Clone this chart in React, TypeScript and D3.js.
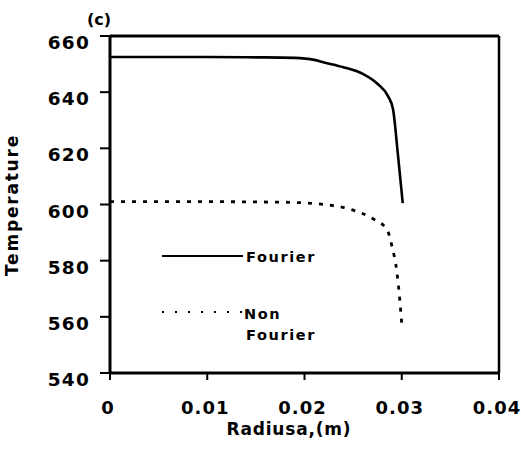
import React from "react";
import * as d3 from "d3";

const xTicks = [0, 0.01, 0.02, 0.03, 0.04];
const xTickLabels = ["0", "0.01", "0.02", "0.03", "0.04"];
const yTicks = [540, 560, 580, 600, 620, 640, 660];

const fourierR = [0, 0.005, 0.01, 0.015, 0.019, 0.021, 0.022, 0.024, 0.026, 0.0275, 0.0286, 0.0291, 0.0296, 0.0301];
const fourierT = [652.5, 652.5, 652.5, 652.4, 652.2, 651.5, 650.6, 648.9, 646.5, 643, 638.5, 634, 618, 600.5];

const nonFourierR = [0, 0.01, 0.018, 0.022, 0.025, 0.027, 0.0285, 0.029, 0.0295, 0.0298, 0.03];
const nonFourierT = [601, 601, 600.8, 600, 598, 595, 591, 585, 576, 566, 557.5];

const legendLabels = ["Fourier", "Non", "Fourier"];

const FONT = "'DejaVu Sans', sans-serif";

export default function App() {
  const W = 521, H = 460;
  const x = d3.scaleLinear().domain([0, 0.04]).range([110, 499]);
  const y = d3.scaleLinear().domain([540, 660]).range([373, 36]);

  const line = d3
    .line<[number, number]>()
    .x((d) => x(d[0]))
    .y((d) => y(d[1]))
    .curve(d3.curveMonotoneX);

  const fData: [number, number][] = fourierR.map((r, i) => [r, fourierT[i]]);
  const nData: [number, number][] = nonFourierR.map((r, i) => [r, nonFourierT[i]]);

  const x0 = x(0), x1 = x(0.04), y0 = y(540), y1 = y(660);

  return (
    <svg width={W} height={H} style={{ position: "absolute", left: 0, top: 0, background: "#fff" }}>
      <rect x={0} y={0} width={W} height={H} fill="#fff" />
      {/* frame */}
      <line x1={x0} y1={y1} x2={x1} y2={y1} stroke="#000" strokeWidth={3} />
      <line x1={x1} y1={y1} x2={x1} y2={y0} stroke="#000" strokeWidth={2.5} />
      <line x1={x0} y1={y0} x2={x1} y2={y0} stroke="#000" strokeWidth={3} />
      <line x1={x0} y1={y1} x2={x0} y2={y0} stroke="#000" strokeWidth={3} />

      {/* y ticks */}
      {yTicks.map((t) => (
        <g key={"y" + t}>
          <line x1={x0 - 10} x2={x0} y1={y(t)} y2={y(t)} stroke="#000" strokeWidth={2} />
          <text
            x={90}
            y={y(t) + 13}
            textAnchor="end"
            fontFamily={FONT}
            fontWeight="bold"
            fontSize={18.5}
            letterSpacing={1.2}
          >
            {t}
          </text>
        </g>
      ))}

      {/* x ticks */}
      {xTicks.map((t, i) => (
        <g key={"x" + t}>
          <line x1={x(t)} x2={x(t)} y1={y0} y2={y0 + 7} stroke="#000" strokeWidth={2} />
          <text
            x={x(t) - 2}
            y={414}
            textAnchor="middle"
            fontFamily={FONT}
            fontWeight="bold"
            fontSize={18}
            letterSpacing={1}
          >
            {xTickLabels[i]}
          </text>
        </g>
      ))}

      {/* curves */}
      <path d={line(fData) || ""} fill="none" stroke="#000" strokeWidth={2.6} />
      <path d={line(nData) || ""} fill="none" stroke="#000" strokeWidth={2.8} strokeDasharray="4,7" />

      {/* legend */}
      <line x1={162} x2={243} y1={256} y2={256} stroke="#000" strokeWidth={2.2} />
      <text x={246} y={262} fontFamily={FONT} fontWeight="bold" fontSize={14.5} letterSpacing={1.6}>
        {legendLabels[0]}
      </text>
      <line x1={162} x2={243} y1={312} y2={312} stroke="#000" strokeWidth={2} strokeDasharray="2,11" />
      <text x={244} y={319} fontFamily={FONT} fontWeight="bold" fontSize={14.5} letterSpacing={1.6}>
        {legendLabels[1]}
      </text>
      <text x={246} y={340} fontFamily={FONT} fontWeight="bold" fontSize={14.5} letterSpacing={1.6}>
        {legendLabels[2]}
      </text>

      {/* titles */}
      <text x={289} y={435} textAnchor="middle" fontFamily={FONT} fontWeight="bold" fontSize={17} letterSpacing={0.8}>
        Radiusa,(m)
      </text>
      <text
        transform="translate(18,205) rotate(-90)"
        textAnchor="middle"
        fontFamily={FONT}
        fontWeight="bold"
        fontSize={17}
        letterSpacing={1.8}
      >
        Temperature
      </text>
      <text x={87} y={25} fontFamily={FONT} fontWeight="bold" fontSize={16}>
        (c)
      </text>
    </svg>
  );
}
